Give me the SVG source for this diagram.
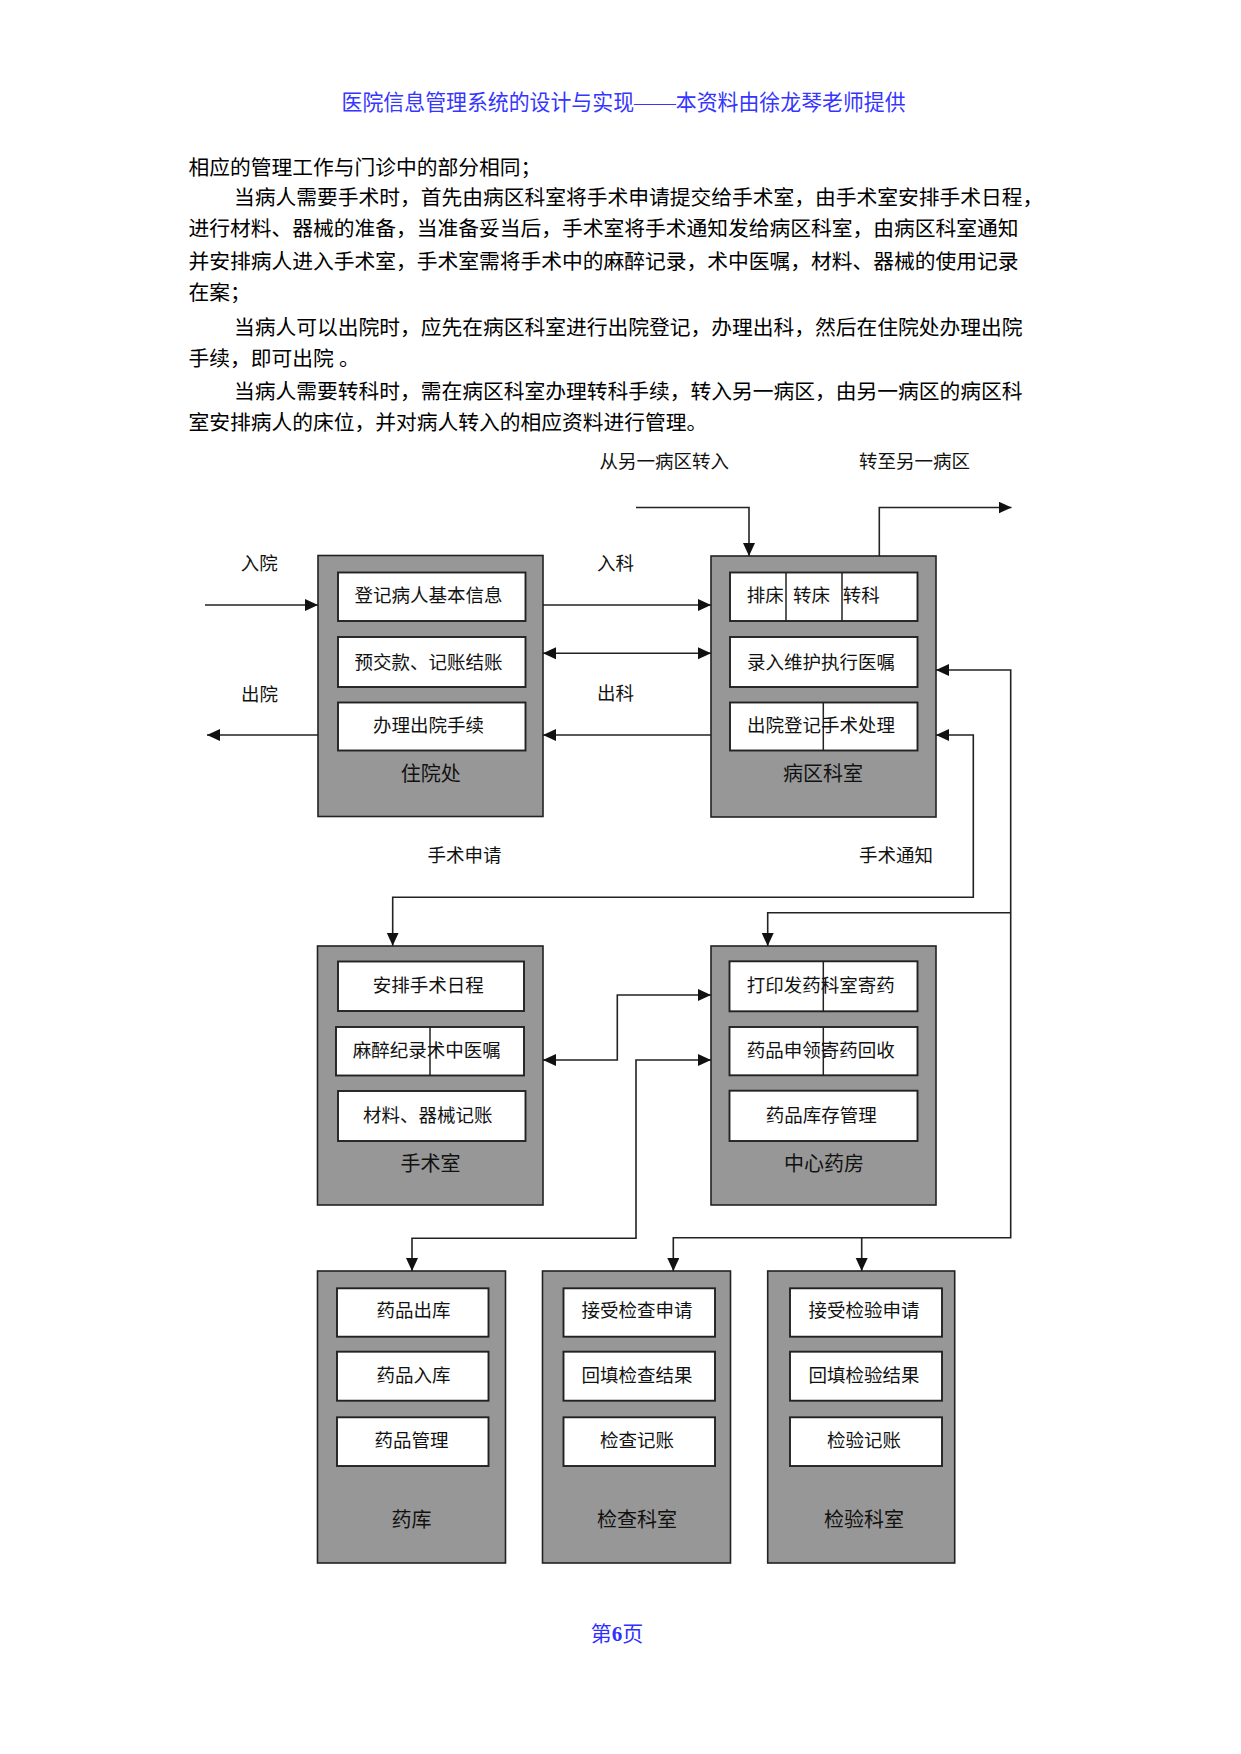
<svg xmlns="http://www.w3.org/2000/svg" width="1241" height="1754" viewBox="0 0 1241 1754">
<style>
text{font-family:"Liberation Serif","Noto Sans CJK SC",serif;fill:#111}
.body{font-size:20.75px;fill:#000}
.ttl{font-size:21.7px;fill:#3535ff}
.lbl{font-size:18.5px}
.it{font-size:18.5px;text-anchor:middle}
.its{font-size:18.5px}
.bl{font-size:20px;text-anchor:middle}
.outer{fill:#979797;stroke:#222;stroke-width:1.6}
.inner{fill:#fff;stroke:#222;stroke-width:1.9}
.div{stroke:#222;stroke-width:1.5}
.con{fill:none;stroke:#222;stroke-width:1.6}
</style>
<defs>
<marker id="ah" markerUnits="userSpaceOnUse" markerWidth="14" markerHeight="13" refX="13" refY="6" orient="auto-start-reverse" viewBox="0 0 14 13">
<path d="M0,0 L13,6 L0,12 z" fill="#111"/>
</marker>
</defs>
<rect width="1241" height="1754" fill="#fff"/>
<text class="ttl" x="623.6" y="110" text-anchor="middle" textLength="564" lengthAdjust="spacingAndGlyphs">医院信息管理系统的设计与实现——本资料由徐龙琴老师提供</text>
<g id="body-text">
<text class="body" x="188.5" y="175.3">相应的管理工作与门诊中的部分相同；</text>
<text class="body" x="233.9" y="204.7">当病人需要手术时，首先由病区科室将手术申请提交给手术室，由手术室安排手术日程，</text>
<text class="body" x="188.5" y="235.7">进行材料、器械的准备，当准备妥当后，手术室将手术通知发给病区科室，由病区科室通知</text>
<text class="body" x="188.5" y="269">并安排病人进入手术室，手术室需将手术中的麻醉记录，术中医嘱，材料、器械的使用记录</text>
<text class="body" x="188.5" y="300.3">在案；</text>
<text class="body" x="233.9" y="334.7">当病人可以出院时，应先在病区科室进行出院登记，办理出科，然后在住院处办理出院</text>
<text class="body" x="188.5" y="365.7" xml:space="preserve">手续，即可出院 。</text>
<text class="body" x="233.9" y="399">当病人需要转科时，需在病区科室办理转科手续，转入另一病区，由另一病区的病区科</text>
<text class="body" x="188.5" y="429.7">室安排病人的床位，并对病人转入的相应资料进行管理。</text>
</g>
<g id="connector-labels">
<text class="lbl" x="599.5" y="467.7">从另一病区转入</text>
<text class="lbl" x="859" y="467.7">转至另一病区</text>
<text class="lbl" x="240.7" y="570">入院</text>
<text class="lbl" x="241" y="701">出院</text>
<text class="lbl" x="597" y="570.3">入科</text>
<text class="lbl" x="597" y="700">出科</text>
<text class="lbl" x="427.5" y="862">手术申请</text>
<text class="lbl" x="859" y="862">手术通知</text>
</g>
<g id="node-zhuyuanchu">
<rect class="outer" x="318" y="555.5" width="225" height="261"/>
<rect class="inner" x="338" y="572.5" width="187.5" height="48.5"/>
<rect class="inner" x="338" y="637" width="187.5" height="50"/>
<rect class="inner" x="338" y="702.5" width="187.5" height="48"/>
<text class="it" x="428.5" y="602">登记病人基本信息</text>
<text class="it" x="428.5" y="668.7">预交款、记账结账</text>
<text class="it" x="428.5" y="732">办理出院手续</text>
<text class="bl" x="430.7" y="780.6">住院处</text>
</g>
<g id="node-bingqu">
<rect class="outer" x="711" y="556" width="225" height="261"/>
<rect class="inner" x="730" y="572.5" width="187.5" height="48.5"/>
<rect class="inner" x="730" y="637" width="187.5" height="50"/>
<rect class="inner" x="730" y="702.5" width="187.5" height="48"/>
<line class="div" x1="786" y1="572.5" x2="786" y2="621"/>
<line class="div" x1="842" y1="572.5" x2="842" y2="621"/>
<line class="div" x1="823.3" y1="702.5" x2="823.3" y2="750.5"/>
<text class="its" x="746.7" y="602">排床</text>
<text class="its" x="793" y="602">转床</text>
<text class="its" x="842.7" y="602">转科</text>
<text class="it" x="821" y="668.7">录入维护执行医嘱</text>
<text class="it" x="821" y="732">出院登记手术处理</text>
<text class="bl" x="823" y="780.6">病区科室</text>
</g>
<g id="node-shoushushi">
<rect class="outer" x="317.5" y="946" width="225.5" height="259"/>
<rect class="inner" x="338" y="961.5" width="186" height="49.5"/>
<rect class="inner" x="336" y="1027" width="188" height="48.5"/>
<rect class="inner" x="338" y="1091" width="187.5" height="50"/>
<line class="div" x1="430" y1="1027" x2="430" y2="1075.5"/>
<text class="it" x="428.3" y="992">安排手术日程</text>
<text class="it" x="426.8" y="1057">麻醉纪录术中医嘱</text>
<text class="it" x="427.7" y="1122">材料、器械记账</text>
<text class="bl" x="430.5" y="1170.6">手术室</text>
</g>
<g id="node-zhongxinyaofang">
<rect class="outer" x="711" y="946" width="225" height="259"/>
<rect class="inner" x="729.5" y="961.3" width="188" height="50"/>
<rect class="inner" x="729.5" y="1027" width="188" height="48.3"/>
<rect class="inner" x="729.5" y="1090.7" width="188" height="50.3"/>
<line class="div" x1="823.3" y1="961.3" x2="823.3" y2="1011.3"/>
<line class="div" x1="823.3" y1="1027" x2="823.3" y2="1075.3"/>
<text class="it" x="820.8" y="992">打印发药科室寄药</text>
<text class="it" x="820.8" y="1057">药品申领寄药回收</text>
<text class="it" x="821.2" y="1122">药品库存管理</text>
<text class="bl" x="824" y="1170.6">中心药房</text>
</g>
<g id="node-yaoku">
<rect class="outer" x="317.5" y="1271" width="188" height="292"/>
<rect class="inner" x="337" y="1288.3" width="151.5" height="48.4"/>
<rect class="inner" x="337" y="1351.7" width="151.5" height="49"/>
<rect class="inner" x="337" y="1417.3" width="151.5" height="48.7"/>
<text class="it" x="413.5" y="1317">药品出库</text>
<text class="it" x="413.5" y="1382">药品入库</text>
<text class="it" x="411.5" y="1447">药品管理</text>
<text class="bl" x="411.4" y="1527">药库</text>
</g>
<g id="node-jiancha">
<rect class="outer" x="542.5" y="1271" width="188" height="292"/>
<rect class="inner" x="563.5" y="1288.3" width="151.5" height="48.4"/>
<rect class="inner" x="563.5" y="1351.7" width="151.5" height="49"/>
<rect class="inner" x="563.5" y="1417.3" width="151.5" height="48.7"/>
<text class="it" x="637" y="1317">接受检查申请</text>
<text class="it" x="637" y="1382">回填检查结果</text>
<text class="it" x="637" y="1447">检查记账</text>
<text class="bl" x="637" y="1527">检查科室</text>
</g>
<g id="node-jianyan">
<rect class="outer" x="767.7" y="1271" width="187" height="292"/>
<rect class="inner" x="790" y="1288.3" width="152" height="48.4"/>
<rect class="inner" x="790" y="1351.7" width="152" height="49"/>
<rect class="inner" x="790" y="1417.3" width="152" height="48.7"/>
<text class="it" x="864" y="1317">接受检验申请</text>
<text class="it" x="864" y="1382">回填检验结果</text>
<text class="it" x="864" y="1447">检验记账</text>
<text class="bl" x="864" y="1527">检验科室</text>
</g>
<g id="connectors">
<path class="con" d="M205,605 H318" marker-end="url(#ah)"/>
<path class="con" d="M318,735 H207" marker-end="url(#ah)"/>
<path class="con" d="M543,605 H711" marker-end="url(#ah)"/>
<path class="con" d="M543,653.3 H711" marker-start="url(#ah)" marker-end="url(#ah)"/>
<path class="con" d="M711,735 H543" marker-end="url(#ah)"/>
<path class="con" d="M636,507.5 H749 V556" marker-end="url(#ah)"/>
<path class="con" d="M879.3,556 V507.5 H1011.5" marker-end="url(#ah)"/>
<path class="con" d="M936,735 H973.3 V897.3 H392.7 V945.7" marker-start="url(#ah)" marker-end="url(#ah)"/>
<path class="con" d="M936,670 H1010.7 V1237.7 H673.3 V1271" marker-start="url(#ah)" marker-end="url(#ah)"/>
<path class="con" d="M1010.7,912.7 H767.7 V946" marker-end="url(#ah)"/>
<path class="con" d="M861.7,1237.7 V1271" marker-end="url(#ah)"/>
<path class="con" d="M543,1060 H617.3 V995 H711" marker-start="url(#ah)" marker-end="url(#ah)"/>
<path class="con" d="M412,1271 V1238.3 H636 V1060 H711" marker-start="url(#ah)" marker-end="url(#ah)"/>
</g>
<text x="617" y="1641" text-anchor="middle" style="font-size:21px;fill:#2f2fff">第<tspan style="font-weight:bold;fill:#2f2fff">6</tspan>页</text>
</svg>
